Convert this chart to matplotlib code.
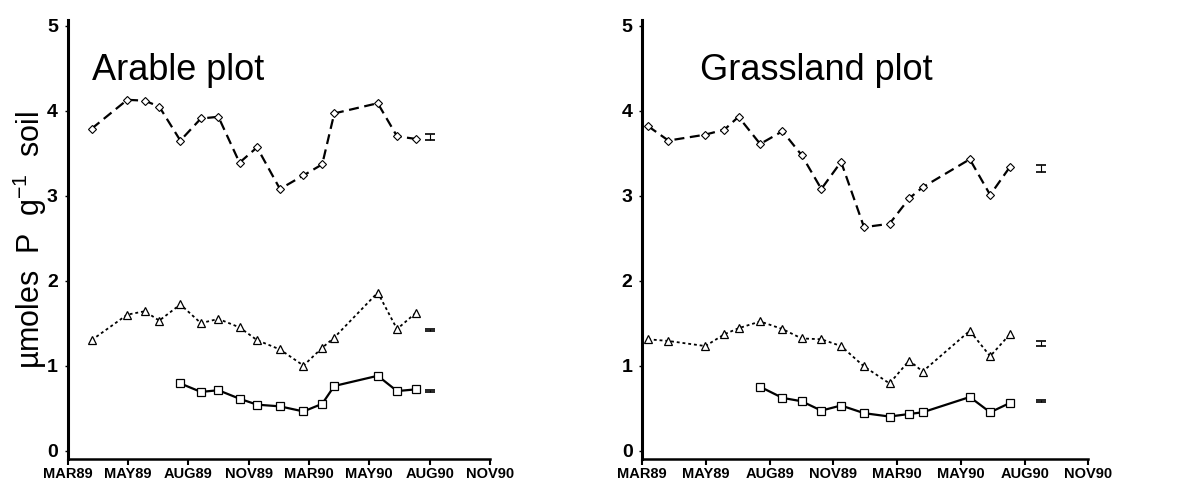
import matplotlib
matplotlib.use("Agg")
import matplotlib.pyplot as plt


# =========================
# DATA
# =========================

month_labels = ["MAR89", "MAY89", "AUG89", "NOV89", "MAR90", "MAY90", "AUG90", "NOV90"]

# sampling positions on the (month-label) axis
arable_x = [0.40, 0.99, 1.28, 1.52, 1.87, 2.21, 2.50, 2.85, 3.14, 3.52, 3.91, 4.22, 4.42, 5.14, 5.46, 5.77]
arable_diamond = [3.79, 4.13, 4.12, 4.05, 3.65, 3.91, 3.93, 3.39, 3.57, 3.08, 3.24, 3.37, 3.97, 4.09, 3.70, 3.67]
arable_triangle = [1.30, 1.60, 1.64, 1.53, 1.72, 1.50, 1.55, 1.45, 1.30, 1.19, 1.00, 1.21, 1.33, 1.86, 1.43, 1.62]
arable_square = [0.79, 0.69, 0.71, 0.61, 0.54, 0.52, 0.46, 0.55, 0.76, 0.88, 0.70, 0.72]
arable_square_start = 4

grass_x = [0.09, 0.41, 0.99, 1.29, 1.51, 1.85, 2.20, 2.50, 2.81, 3.12, 3.48, 3.88, 4.19, 4.40, 5.14, 5.46, 5.77]
grass_diamond = [3.82, 3.65, 3.72, 3.78, 3.93, 3.61, 3.76, 3.48, 3.08, 3.40, 2.63, 2.67, 2.97, 3.10, 3.43, 3.01, 3.34]
grass_triangle = [1.31, 1.29, 1.23, 1.37, 1.44, 1.52, 1.43, 1.32, 1.31, 1.23, 0.99, 0.79, 1.06, 0.93, 1.41, 1.11, 1.37]
grass_square = [0.75, 0.62, 0.58, 0.47, 0.53, 0.44, 0.40, 0.43, 0.45, 0.63, 0.45, 0.56]
grass_square_start = 5

# standard error bars drawn to the right of each series
arable_se_x = 6.01
arable_se_mean = [3.69, 1.42, 0.70]
arable_se = [0.035, 0.015, 0.008]

grass_se_x = 6.25
grass_se_mean = [3.32, 1.26, 0.58]
grass_se = [0.04, 0.03, 0.01]


# =========================
# STYLE
# =========================

plt.rcParams["font.family"] = ["Liberation Sans", "DejaVu Sans"]
plt.rcParams["mathtext.fontset"] = "custom"
plt.rcParams["mathtext.rm"] = "Liberation Sans"

fig = plt.figure(figsize=(11.77, 4.9), dpi=100)

ax_left = fig.add_axes([67.5 / 1177, 31 / 490, 422.5 / 1177, 439 / 490])
ax_right = fig.add_axes([642.3 / 1177, 31 / 490, 446 / 1177, 439 / 490])


def draw_panel(ax, x, diamond, triangle, square, sq_start, se_x, se_mean, se, title, title_x):

    ax.plot(x, diamond, color="black", lw=1.6, dashes=(4.5, 2.5),
            marker="D", ms=4.5, mfc="white", mec="black", mew=0.8, zorder=3)

    ax.plot(x, triangle, color="black", lw=1.3, dashes=(1.6, 1.6),
            marker="^", ms=5.5, mfc="white", mec="black", mew=0.9, zorder=3)

    ax.plot(x[sq_start:], square, color="black", lw=1.6,
            marker="s", ms=6, mfc="white", mec="black", mew=0.9, zorder=3)

    for m, s in zip(se_mean, se):
        ax.errorbar([se_x], [m], yerr=[s], color="black", lw=0.8,
                    capsize=3.5, capthick=1.2, fmt="none")

    ax.set_xlim(0, 7)
    ax.set_ylim(-0.1, 5.07)

    ax.set_xticks(range(len(month_labels)))
    ax.set_xticklabels(month_labels, fontsize=10.5, fontweight="bold")

    ax.set_yticks([0, 1, 2, 3, 4, 5])
    ax.set_yticklabels(["0", "1", "2", "3", "4", "5"], fontsize=14, fontweight="bold")

    ax.spines["top"].set_visible(False)
    ax.spines["right"].set_visible(False)
    ax.spines["left"].set_linewidth(2.2)
    ax.spines["bottom"].set_linewidth(1.8)

    ax.tick_params(axis="x", direction="out", length=4, width=1.5, pad=1.5)
    ax.tick_params(axis="y", direction="out", length=2, width=1, pad=5)

    ax.text(title_x, 0.864, title, transform=ax.transAxes,
            fontsize=26, va="baseline", ha="left")


# =========================
# PANELS
# =========================

draw_panel(ax_left, arable_x, arable_diamond, arable_triangle, arable_square,
           arable_square_start, arable_se_x, arable_se_mean, arable_se,
           "Arable plot", 0.058)

draw_panel(ax_right, grass_x, grass_diamond, grass_triangle, grass_square,
           grass_square_start, grass_se_x, grass_se_mean, grass_se,
           "Grassland plot", 0.129)

fig.text(0.025, 0.51, "\u00b5moles  P  g$\\mathregular{^{-1}}$  soil",
         rotation=90, va="center", ha="center", fontsize=22)

fig.savefig("out.png", dpi=100)
